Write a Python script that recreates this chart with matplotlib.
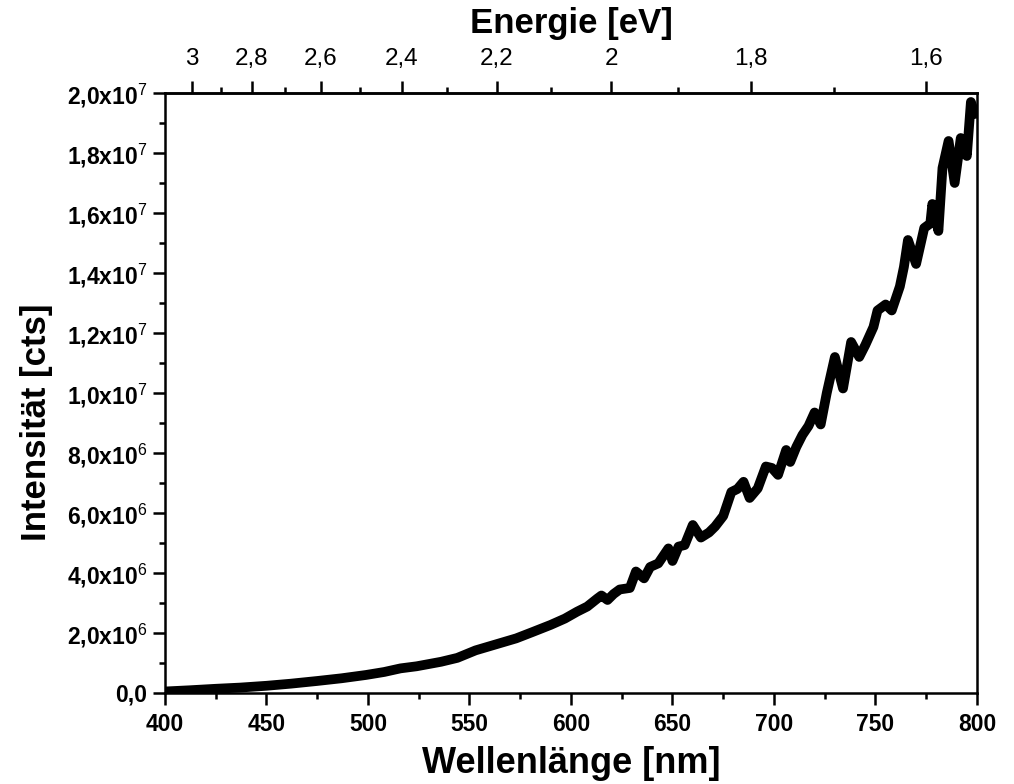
import matplotlib
matplotlib.use("Agg")
import matplotlib.pyplot as plt
from matplotlib.ticker import FuncFormatter, MultipleLocator, FixedLocator

plt.rcParams["font.family"] = ["Liberation Sans", "DejaVu Sans"]
plt.rcParams["mathtext.fontset"] = "custom"
plt.rcParams["mathtext.rm"] = "Liberation Sans"
plt.rcParams["mathtext.bf"] = "Liberation Sans:bold"

# spectrum (wavelength nm, intensity in 1e6 cts)
wavelength = [400, 412, 425, 437, 450, 462, 475, 487, 499, 508, 516, 524, 536, 544,
              553, 563, 573, 581, 590, 597, 603, 608, 613, 615, 618, 621, 624, 629,
              632, 636, 639, 643, 648, 650, 653, 656, 660, 664, 668, 671, 675, 679,
              682, 685, 688, 692, 696, 699, 702, 706, 708, 711, 714, 717, 720, 723,
              726, 730, 734, 738, 742, 745, 749, 751, 755, 758, 762, 764, 766, 770,
              774, 777, 778, 781, 783, 786, 789, 792, 795, 797, 799]
intensity_1e6 = [0.05, 0.09, 0.14, 0.18, 0.24, 0.31, 0.40, 0.49, 0.60, 0.70, 0.82, 0.89,
                 1.04, 1.17, 1.42, 1.62, 1.82, 2.03, 2.27, 2.48, 2.71, 2.88, 3.15, 3.25,
                 3.10, 3.30, 3.45, 3.50, 4.05, 3.82, 4.20, 4.32, 4.82, 4.40, 4.88, 4.93,
                 5.60, 5.18, 5.35, 5.55, 5.90, 6.70, 6.80, 7.04, 6.50, 6.82, 7.55, 7.50,
                 7.27, 8.10, 7.70, 8.20, 8.60, 8.90, 9.35, 8.95, 10.0, 11.2, 10.15, 11.7,
                 11.2, 11.6, 12.2, 12.75, 12.95, 12.75, 13.55, 14.2, 15.1, 14.3, 15.5,
                 15.65, 16.3, 15.4, 17.5, 18.4, 17.0, 18.5, 17.9, 19.7, 19.3]

energy_major = [3.0, 2.8, 2.6, 2.4, 2.2, 2.0, 1.8, 1.6]
energy_minor = [3.1, 2.9, 2.7, 2.5, 2.3, 2.1, 1.9, 1.7, 1.5]

HC = 1239.84  # eV*nm

intensity = [v * 1e6 for v in intensity_1e6]


def y_fmt(v, _pos):
    if v == 0:
        return "0,0"
    exp = 0
    m = v
    while m >= 10:
        m /= 10
        exp += 1
    s = f"{m:.1f}".replace(".", ",")
    return s + r"x10$^{" + str(exp) + "}$"


def e_fmt(v, _pos):
    s = f"{v:.1f}".rstrip("0").rstrip(".")
    return s.replace(".", ",")


fig = plt.figure(figsize=(10.14, 7.84), dpi=100)
ax = fig.add_axes([0.1627, 0.1161, 0.8008, 0.7653])

ax.plot(wavelength, intensity, color="black", lw=7, solid_joinstyle="round",
        solid_capstyle="round")

ax.set_xlim(400, 800)
ax.set_ylim(0, 2e7)
ax.xaxis.set_major_locator(MultipleLocator(50))
ax.xaxis.set_minor_locator(MultipleLocator(25))
ax.yaxis.set_major_locator(MultipleLocator(2e6))
ax.yaxis.set_minor_locator(MultipleLocator(1e6))
ax.yaxis.set_major_formatter(FuncFormatter(y_fmt))

for sp in ax.spines.values():
    sp.set_linewidth(1.8)

ax.tick_params(which="both", direction="out", width=1.8, top=False, right=False)
ax.tick_params(which="major", length=8.5, labelsize=16.5)
ax.tick_params(which="minor", length=4)
ax.tick_params(axis="x", which="major", pad=6)
ax.tick_params(axis="y", which="major", pad=4)
for lab in ax.get_xticklabels() + ax.get_yticklabels():
    lab.set_fontweight("bold")

ax.set_xlabel("Wellenlänge [nm]", fontsize=26, fontweight="bold", labelpad=7)
ax.set_ylabel("Intensität [cts]", fontsize=25, fontweight="bold")
ax.yaxis.set_label_coords(-0.138, 0.452)

top = ax.secondary_xaxis("top", functions=(lambda x: HC / x, lambda e: HC / e))
top.xaxis.set_major_locator(FixedLocator(energy_major))
top.xaxis.set_minor_locator(FixedLocator(energy_minor))
top.xaxis.set_major_formatter(FuncFormatter(e_fmt))
top.tick_params(which="both", direction="out", width=1.8)
top.tick_params(which="major", length=8.5, labelsize=17.5, pad=8)
top.tick_params(which="minor", length=4)
top.spines["top"].set_linewidth(1.8)
top.set_xlabel("Energie [eV]", fontsize=25, fontweight="bold", labelpad=11)

fig.savefig("out.png", dpi=100)
